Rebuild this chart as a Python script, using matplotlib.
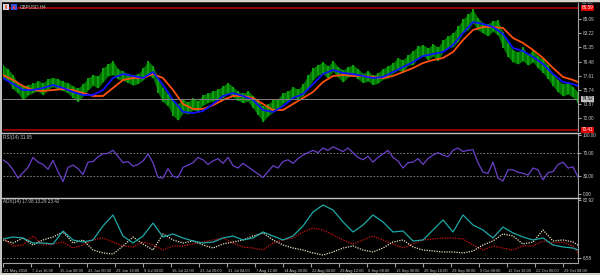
import numpy as np
import matplotlib.pyplot as plt
import matplotlib.transforms as mtransforms
from matplotlib.patches import Rectangle
from matplotlib.lines import Line2D

plt.rcParams['font.family'] = ['Liberation Sans', 'DejaVu Sans']

# H4 bars, sampled: middle of each bar and half of its high-low range
bar_mid = [78.10, 77.70, 76.77, 75.98, 75.31, 75.71, 75.98, 76.24, 75.85, 76.51,
           76.77, 76.51, 76.24, 75.98, 75.45, 75.05, 75.71, 76.51, 77.04, 76.77,
           77.70, 78.37, 78.63, 77.83, 77.57, 77.30, 77.04, 77.17, 77.83, 78.63,
           78.10, 76.38, 75.05, 74.39, 73.33, 72.80, 73.59, 73.33, 73.86, 73.59,
           74.39, 74.65, 74.92, 75.18, 75.45, 75.98, 75.45, 74.92, 74.65, 74.92,
           74.12, 73.33, 72.53, 73.06, 73.59, 73.86, 74.65, 74.92, 75.45, 75.18,
           75.71, 76.77, 77.83, 78.37, 78.63, 78.10, 78.90, 78.10, 77.57, 78.10,
           78.37, 77.83, 77.30, 77.57, 77.04, 77.30, 77.83, 78.10, 78.63, 79.16,
           78.90, 79.69, 79.96, 80.75, 81.02, 80.49, 81.02, 80.49, 81.55, 82.08,
           82.34, 83.14, 84.20, 84.73, 85.50, 84.47, 83.94, 83.67, 84.20, 83.94,
           82.34, 81.02, 80.22, 79.96, 80.49, 79.69, 80.22, 79.42, 78.90, 78.10,
           77.04, 76.24, 75.71, 75.98, 75.45, 74.73]
bar_half = [0.9, 0.8, 0.9, 0.7, 0.9, 0.7, 0.6, 0.7, 0.8, 0.7,
            0.6, 0.7, 0.6, 0.7, 0.8, 0.9, 0.8, 0.8, 0.7, 0.8,
            0.9, 0.8, 0.9, 0.7, 0.6, 0.6, 0.7, 0.6, 0.8, 0.9,
            0.8, 1.0, 0.9, 0.8, 1.0, 1.1, 0.9, 0.8, 0.8, 0.7,
            0.7, 0.6, 0.7, 0.6, 0.8, 0.7, 0.7, 0.6, 0.6, 0.7,
            0.8, 0.9, 1.0, 0.8, 0.8, 0.7, 0.7, 0.6, 0.7, 0.6,
            0.8, 0.9, 0.8, 0.7, 0.8, 0.8, 0.7, 0.7, 0.8, 0.7,
            0.7, 0.7, 0.6, 0.7, 0.6, 0.7, 0.7, 0.8, 0.7, 0.8,
            0.8, 0.7, 0.9, 0.8, 0.7, 0.8, 0.8, 0.9, 0.8, 0.8,
            0.9, 1.0, 0.9, 1.0, 0.9, 0.8, 0.7, 0.8, 0.7, 1.0,
            1.0, 0.9, 0.8, 0.8, 0.9, 0.7, 0.8, 0.8, 0.9, 0.9,
            0.8, 0.8, 0.8, 0.8, 0.7, 0.7]

# moving averages, read every second bar
ma_fast = [77.30, 76.51, 75.71, 75.71, 75.98, 76.38, 75.98, 75.45, 75.05, 75.05,
           75.71, 77.30, 77.83, 77.57, 77.30, 78.10, 76.38, 74.39, 72.80, 72.66,
           72.93, 73.86, 74.92, 75.31, 74.92, 74.39, 73.06, 72.80, 73.59, 74.65,
           75.18, 76.51, 77.83, 78.37, 77.97, 77.83, 77.57, 77.30, 77.44, 78.10,
           78.76, 79.42, 80.22, 80.49, 80.75, 81.68, 83.27, 84.73, 84.47, 84.07,
           83.14, 81.28, 80.88, 80.09, 79.16, 77.83, 76.77, 76.51, 76.24]
ma_slow = [77.70, 77.04, 76.24, 75.71, 75.58, 75.71, 75.85, 75.71, 75.31, 74.92,
           74.92, 75.98, 77.04, 77.30, 77.30, 77.83, 77.30, 75.71, 73.86, 73.20,
           73.20, 73.70, 74.39, 74.92, 74.92, 74.65, 73.86, 73.06, 73.06, 73.86,
           74.65, 75.45, 76.77, 77.57, 77.70, 77.57, 77.57, 77.44, 77.30, 77.57,
           78.10, 78.63, 79.29, 79.69, 79.96, 80.75, 82.34, 83.67, 84.07, 84.07,
           83.94, 82.61, 81.95, 81.02, 79.96, 78.63, 77.44, 77.04, 76.77]

rsi = [58, 52, 41, 27, 36, 45, 62, 54, 50, 42, 57, 38, 21, 45, 49, 43, 33, 54, 55, 63,
       68, 69, 74, 64, 53, 55, 47, 50, 56, 68, 53, 28, 27, 43, 30, 28, 45, 49, 53, 62,
       58, 50, 56, 60, 52, 62, 48, 44, 52, 46, 40, 34, 28, 38, 48, 44, 55, 58, 52, 60,
       66, 70, 74, 70, 78, 74, 80, 76, 72, 78, 70, 62, 58, 64, 54, 62, 68, 74, 62, 56,
       44, 53, 54, 60, 50, 60, 66, 70, 66, 63, 74, 78, 72, 74, 75, 53, 37, 35, 54, 27,
       22, 41, 41, 37, 35, 32, 44, 41, 24, 36, 38, 50, 54, 44, 46, 29]

adx_main = [31.6, 34.2, 32.9, 26.3, 26.3, 25.0, 42.1, 30.3, 27.6, 30.3,
            48.7, 63.2, 35.5, 26.3, 35.5, 52.6, 34.2, 38.2, 32.9, 29.0,
            26.3, 27.6, 32.9, 35.5, 30.3, 32.9, 40.8, 35.5, 30.3, 35.5,
            48.7, 67.1, 76.3, 69.7, 54.0, 40.8, 50.0, 63.2, 54.0, 40.8,
            42.1, 29.0, 30.3, 43.4, 56.6, 40.8, 63.2, 50.0, 43.4, 32.9,
            47.4, 39.5, 34.2, 30.3, 32.9, 23.7, 21.1, 19.7, 17.1]
adx_plus = [32.9, 22.4, 23.7, 35.5, 23.7, 25.0, 27.6, 19.7, 23.7, 30.3,
            32.9, 27.6, 22.4, 21.1, 27.6, 23.7, 17.1, 22.4, 22.4, 25.0,
            27.6, 30.3, 32.9, 26.3, 21.1, 19.7, 17.1, 26.3, 30.3, 32.9,
            40.8, 46.1, 43.4, 36.9, 30.3, 25.0, 30.3, 35.5, 30.3, 25.0,
            19.7, 25.0, 30.3, 31.6, 32.9, 32.9, 31.6, 23.7, 17.1, 22.4,
            19.7, 17.1, 22.4, 22.4, 29.0, 26.3, 27.6, 22.4, 13.3]
adx_minus = [30.3, 26.3, 32.9, 23.7, 30.3, 34.2, 40.8, 26.3, 30.3, 17.1,
             13.2, 11.8, 22.4, 34.2, 25.0, 17.1, 38.2, 30.3, 26.3, 29.0,
             23.7, 19.7, 25.0, 27.6, 30.3, 35.5, 39.5, 30.3, 23.7, 19.7,
             17.1, 13.2, 10.5, 14.5, 19.7, 22.4, 17.1, 14.5, 19.7, 27.6,
             30.3, 21.1, 17.1, 15.8, 14.5, 14.5, 13.2, 15.8, 23.7, 29.0,
             38.2, 35.5, 25.0, 27.6, 43.4, 29.0, 30.3, 27.6, 23.4]

price_ticks = [72.00, 73.87, 75.74, 77.61, 79.48, 81.35, 83.22, 85.09]
price_top = 86.96
level_hi = 86.59
level_lo = 70.41
last_price = 74.52
rsi_ticks = [0, 30, 70, 100]
adx_ticks = [6.58, 82.92]
date_labels = ["21 May 2010", "7 Jun 16:00", "15 Jun 08:00", "22 Jun 00:00",
               "29 Jun 16:00", "9 Jul 04:00", "16 Jul 12:00", "23 Jul 20:00",
               "31 Jul 04:00", "7 Aug 12:00", "14 Aug 20:00", "22 Aug 04:00",
               "29 Aug 12:00", "6 Sep 08:00", "13 Sep 00:00", "20 Sep 16:00",
               "29 Sep 00:00", "5 Oct 08:00", "12 Oct 16:00", "22 Oct 00:00",
               "29 Oct 08:00"]

W, H = 600, 275
TXT = '#c8c8c8'
AXC = '#a0a0a0'
FS = 3.3
FS_DATE = 2.9

fig = plt.figure(figsize=(W / 100, H / 100), dpi=100, facecolor='black')


def px_axes(x0, y0, x1, y1):
    ax = fig.add_axes([x0 / W, 1 - y1 / H, (x1 - x0) / W, (y1 - y0) / H])
    ax.set_facecolor('black')
    for s in ['top', 'left', 'bottom']:
        ax.spines[s].set_visible(False)
    ax.spines['right'].set_color(AXC)
    ax.spines['right'].set_linewidth(0.8)
    ax.yaxis.tick_right()
    ax.tick_params(axis='y', length=2, color=AXC, labelsize=FS, labelcolor=TXT, pad=1.2)
    ax.tick_params(axis='x', bottom=False, labelbottom=False)
    ax.set_xlim(0, len(bar_mid) - 1)
    return ax


def fig_rect(x0, y0, x1, y1, color):
    fig.patches.append(Rectangle((x0 / W, 1 - y1 / H), (x1 - x0) / W, (y1 - y0) / H,
                                 transform=fig.transFigure, fc=color, ec='none', zorder=5))


def fig_hline(y, x0, x1, color, lw):
    fig.lines.append(Line2D([x0 / W, x1 / W], [1 - y / H, 1 - y / H],
                            transform=fig.transFigure, color=color, lw=lw, zorder=5))


idx = np.arange(len(bar_mid))
mid = np.array(bar_mid)
half = np.array(bar_half)
ma_idx = np.append(np.arange(0, len(bar_mid) - 1, 2), len(bar_mid) - 1)

# ---- price window
ax_p = px_axes(3, 3, 578, 131)
ax_p.set_ylim(70.276, 87.249)
ax_p.fill_between(idx, mid - half, mid + half, color='#007800', lw=0)
ax_p.vlines(idx, mid - half, mid + half, color='#10a010', lw=1.4)
ax_p.plot(ma_idx, ma_slow, color='#ff5010', lw=1.3)
ax_p.plot(ma_idx, ma_fast, color='#1010ff', lw=1.3)
ax_p.axhline(level_hi, color='#a00000', lw=1.3)
ax_p.axhline(level_lo, color='#a00000', lw=1.3)
ax_p.axhline(last_price, color='#808080', lw=0.7)
ax_p.set_yticks(price_ticks)
ax_p.set_yticklabels(['%.2f' % v for v in price_ticks])

blend = mtransforms.blended_transform_factory(ax_p.transAxes, ax_p.transData)
ax_p.text(1.006, price_top, '%.2f' % price_top, transform=blend, fontsize=FS, color=TXT,
          va='bottom', ha='left', clip_on=False)
for val, fc, tc in [(level_hi, '#e00000', 'white'), (level_lo, '#e00000', 'white'),
                    (last_price, '#c0c0c0', 'black')]:
    ax_p.text(1.006, val, '%.2f' % val, transform=blend, fontsize=FS, color=tc,
              va='center', ha='left', clip_on=False, zorder=6,
              bbox=dict(boxstyle='square,pad=0.12', fc=fc, ec='none'))

# ---- RSI window
ax_r = px_axes(3, 134, 578, 197)
ax_r.set_ylim(-5.08, 101.69)
for lv in [70, 30]:
    ax_r.axhline(lv, color='#909090', lw=0.6, ls=(0, (2, 2)))
ax_r.plot(idx, rsi, color='#6a40c8', lw=0.9)
ax_r.set_yticks(rsi_ticks)
ax_r.set_yticklabels(['%.2f' % v for v in rsi_ticks])

# ---- ADX window
ax_a = px_axes(3, 199, 578, 263)
ax_a.set_ylim(0, 84.2)
ax_a.axhline(adx_ticks[0], color='#909090', lw=0.6, ls=(0, (2, 2)))
ax_a.plot(ma_idx, adx_plus, color='#d01010', lw=0.9, ls=(0, (1, 1)))
ax_a.plot(ma_idx, adx_minus, color='#e8e0c0', lw=0.9, ls=(0, (1, 1)))
ax_a.plot(ma_idx, adx_main, color='#20a8a8', lw=0.9)
ax_a.set_yticks(adx_ticks)
ax_a.set_yticklabels(['%.2f' % v for v in adx_ticks])
ax_a.spines['bottom'].set_visible(True)
ax_a.spines['bottom'].set_color(AXC)
ax_a.spines['bottom'].set_linewidth(0.8)
tick_pos = np.arange(len(date_labels)) * 28 / 5
ax_a.set_xticks(tick_pos)
ax_a.set_xticklabels(date_labels, ha='left')
ax_a.tick_params(axis='x', bottom=True, labelbottom=True, length=3, color=AXC,
                 labelsize=FS_DATE, labelcolor=TXT, pad=1)
shift = mtransforms.ScaledTranslation(1.0 / 100, 0, fig.dpi_scale_trans)
for lab in ax_a.get_xticklabels():
    lab.set_transform(lab.get_transform() + shift)

# ---- window chrome and separators
fig_rect(0, 0, W, 2, '#d4d0c8')
fig_hline(2.3, 0, W, '#404040', 0.6)
fig_rect(0, 0, 2, H, '#c0c0c0')
fig_rect(0, 273, W, H, '#d4d0c8')
fig_hline(132.8, 2, 580, '#c0c0c0', 1.0)
fig_hline(197.8, 2, 580, '#c0c0c0', 1.0)
fig_rect(3, 4, 9, 10, '#d8d8f0')
fig_rect(5, 5, 7, 9, '#e07040')
fig_rect(11, 4, 17, 10, '#3050e0')
fig_rect(13, 6, 15, 9, '#e04040')

fig.text(20 / W, 1 - 7 / H, 'GBPUSD,H4', fontsize=FS, color=TXT, va='center')
fig.text(3 / W, 1 - 137 / H, 'RSI(14) 31.95', fontsize=FS, color=TXT, va='center')
fig.text(3 / W, 1 - 202 / H, 'ADX(14) 17.08 13.29 23.42', fontsize=FS, color=TXT, va='center')

fig.savefig('out.png', dpi=100, facecolor='black')
